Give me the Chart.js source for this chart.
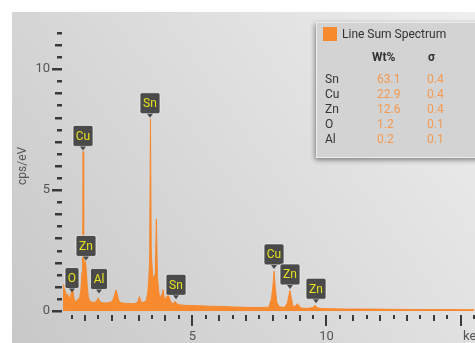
<!DOCTYPE html>
<html>
<head>
<meta charset="utf-8">
<script src="https://cdn.jsdelivr.net/npm/chart.js@4.4.0/dist/chart.umd.min.js"></script>
<style>
html, body { margin:0; padding:0; background:#fff; }
</style>
</head>
<body>
<canvas id="graficoEspectro" width="475" height="343"></canvas>
<script>
// Espectro: energía (keV) y cuentas (cps/eV)
const energia = [0.18,0.21,0.24,0.27,0.30,0.33,0.36,0.40,0.44,0.48,0.52,0.56,0.60,0.65,0.70,0.75,0.80,0.85,0.89,0.91,0.93,0.95,0.98,1.01,1.04,1.08,1.12,1.16,1.22,1.30,1.38,1.44,1.49,1.54,1.62,1.75,1.85,1.95,2.04,2.10,2.16,2.20,2.25,2.32,2.45,2.60,2.75,2.90,2.98,3.03,3.08,3.18,3.28,3.34,3.38,3.41,3.44,3.47,3.52,3.57,3.62,3.66,3.70,3.76,3.82,3.87,3.91,3.95,4.00,4.05,4.10,4.14,4.20,4.28,4.36,4.42,4.55,4.80,5.20,5.60,6.00,6.50,7.00,7.50,7.85,7.95,8.01,8.05,8.09,8.15,8.25,8.45,8.55,8.60,8.64,8.68,8.75,8.85,8.91,8.96,9.05,9.30,9.50,9.57,9.65,9.80,10.2,10.8,11.5,12.5,13.5,14.5,15.5];
const cuentas = [0.9,1.1,0.7,0.85,0.55,0.7,0.5,0.6,0.45,0.7,0.95,0.75,0.45,0.4,0.42,0.5,0.55,0.9,1.6,2.2,6.6,2.3,1.9,2.05,1.8,1.1,0.6,0.45,0.38,0.35,0.37,0.42,0.55,0.42,0.35,0.33,0.34,0.36,0.45,0.65,0.87,0.7,0.45,0.35,0.32,0.31,0.3,0.32,0.4,0.6,0.38,0.36,0.42,0.75,1.4,2.2,7.95,2.4,1.5,1.3,1.6,3.8,1.4,0.7,0.55,0.7,0.88,0.55,0.5,0.6,0.75,0.55,0.38,0.3,0.4,0.3,0.25,0.23,0.22,0.2,0.19,0.17,0.15,0.14,0.16,0.5,1.1,1.65,1.0,0.35,0.17,0.15,0.35,0.65,0.85,0.6,0.2,0.2,0.3,0.25,0.12,0.11,0.14,0.24,0.14,0.1,0.09,0.08,0.08,0.07,0.06,0.06,0.05];

// Etiquetas de picos
const picoNombre = ['O','Cu','Zn','Al','Sn','Sn','Cu','Zn','Zn'];
const picoEnergia = [0.50,0.93,1.02,1.52,3.44,4.38,8.05,8.64,9.60];
const picoAltura = [0.72,6.6,2.05,0.68,7.95,0.44,1.7,0.87,0.28];

// Tabla de la leyenda
const elementos = ['Sn','Cu','Zn','O','Al'];
const pesoPct = ['63.1','22.9','12.6','1.2','0.2'];
const sigma = ['0.4','0.4','0.4','0.1','0.1'];

// Marcas de los ejes
const xEtiquetas = [5, 10];
const yEtiquetas = [0, 5, 10];

const naranja = '#f7892f';
const fuente = 'Roboto, "Open Sans", sans-serif';

document.addEventListener('DOMContentLoaded', function(){
    // fondo gris degradado
    const fondo = {
        id: 'fondo',
        beforeDraw(chart) {
            const c = chart.ctx;
            c.save();
            c.fillStyle = '#ffffff';
            c.fillRect(0, 0, chart.width, chart.height);
            const g = c.createLinearGradient(12, chart.height, chart.width, 12);
            g.addColorStop(0, '#c8c8c8');
            g.addColorStop(1, '#eeeeee');
            c.fillStyle = g;
            c.fillRect(12, 12, chart.width - 12, chart.height - 12);
            c.restore();
        }
    };

    // marcas de los ejes (cortas, medianas y largas)
    const marcas = {
        id: 'marcas',
        afterDraw(chart) {
            const c = chart.ctx, xs = chart.scales.x, ys = chart.scales.y;
            c.save();
            c.fillStyle = '#3a3a3a';
            for (let v = 0; v <= 11.5; v += 0.5) {
                const y = Math.round(ys.getPixelForValue(v));
                const largo = v % 5 === 0 ? 10 : (v % 1 === 0 ? 7 : 5);
                c.fillRect(62 - largo, y - 1, largo, 2.5);
            }
            for (let v = 0.5; v <= 15.5; v += 0.5) {
                const x = Math.round(xs.getPixelForValue(v));
                const largo = v % 5 === 0 ? 11 : (v % 1 === 0 ? 6 : 4);
                c.fillRect(x - 1, 315, 2, largo);
            }
            c.fillStyle = '#555';
            c.font = '13px ' + fuente;
            c.textAlign = 'left';
            c.textBaseline = 'middle';
            c.fillText('keV', 463, 337);
            c.restore();
        }
    };

    // cajitas con el nombre del elemento sobre cada pico
    const etiquetas = {
        id: 'etiquetas',
        afterDatasetsDraw(chart) {
            const c = chart.ctx, xs = chart.scales.x, ys = chart.scales.y;
            c.save();
            c.font = '12px ' + fuente;
            c.textAlign = 'center';
            c.textBaseline = 'middle';
            picoNombre.forEach((n, i) => {
                const x = Math.round(xs.getPixelForValue(picoEnergia[i]));
                const punta = ys.getPixelForValue(picoAltura[i]) - 1;
                const w = Math.round(c.measureText(n).width) + 6;
                const h = 21;
                const top = punta - 4 - h;
                c.fillStyle = '#4a4a4a';
                c.strokeStyle = 'rgba(240,240,240,0.75)';
                c.lineWidth = 1;
                c.beginPath();
                c.roundRect(x - w / 2, top, w, h, 2);
                c.fill();
                c.stroke();
                c.beginPath();
                c.moveTo(x - 3, top + h);
                c.lineTo(x + 3, top + h);
                c.lineTo(x, punta);
                c.closePath();
                c.fill();
                c.fillStyle = '#e8e21c';
                c.fillText(n, x, top + h / 2 + 1);
            });
            c.restore();
        }
    };

    // recuadro de la leyenda con la tabla
    const leyenda = {
        id: 'leyenda',
        afterDraw(chart) {
            const c = chart.ctx;
            c.save();
            c.shadowColor = 'rgba(0,0,0,0.45)';
            c.shadowBlur = 5;
            c.shadowOffsetX = -1;
            c.shadowOffsetY = 2;
            c.fillStyle = '#d3d3d3';
            c.fillRect(316, 22, 170, 136);
            c.shadowColor = 'transparent';
            c.strokeStyle = '#ececec';
            c.strokeRect(316.5, 22.5, 170, 135);
            c.fillStyle = naranja;
            c.fillRect(323, 27, 14, 14);
            c.textBaseline = 'middle';
            c.textAlign = 'left';
            c.fillStyle = '#333';
            c.font = '12px ' + fuente;
            c.fillText('Line Sum Spectrum', 342, 35);
            c.font = 'bold 12px ' + fuente;
            c.fillText('Wt%', 372, 58);
            c.fillText('σ', 428, 58);
            c.font = '12px ' + fuente;
            elementos.forEach((el, i) => {
                const y = 80 + i * 15;
                c.fillStyle = '#333';
                c.fillText(el, 325, y);
                c.fillStyle = '#f29a52';
                c.fillText(pesoPct[i], 377, y);
                c.fillText(sigma[i], 427, y);
            });
            c.restore();
        }
    };

    const ctx = document.getElementById('graficoEspectro').getContext('2d');
    new Chart(ctx, {
        type: 'line',
        data: {
            datasets: [{
                label: 'Line Sum Spectrum',
                data: energia.map((e, i) => ({x: e, y: cuentas[i]})),
                borderColor: naranja,
                backgroundColor: naranja,
                fill: 'origin',
                borderWidth: 1,
                pointRadius: 0,
                tension: 0
            }]
        },
        options: {
            responsive: false,
            animation: false,
            layout: { padding: { top: 9, right: 1, left: 0, bottom: 0 } },
            plugins: { legend: { display: false }, tooltip: { enabled: false } },
            scales: {
                x: {
                    type: 'linear',
                    min: 0.18,
                    max: 15.5,
                    grid: { display: false, drawTicks: false },
                    border: { display: false },
                    afterBuildTicks: s => { s.ticks = xEtiquetas.map(v => ({value: v})); },
                    afterFit: s => { s.height = 32; },
                    ticks: { padding: 18, color: '#555', maxRotation: 0, autoSkip: false, font: { family: fuente, size: 13 } }
                },
                y: {
                    min: 0,
                    max: 12,
                    grid: { display: false, drawTicks: false },
                    border: { display: false },
                    afterBuildTicks: s => { s.ticks = yEtiquetas.map(v => ({value: v})); },
                    afterFit: s => { s.width = 63; },
                    ticks: { padding: 13, color: '#555', font: { family: fuente, size: 13 } },
                    title: { display: true, text: 'cps/eV', color: '#555', font: { family: fuente, size: 12 }, padding: { top: 16, bottom: 0 } }
                }
            }
        },
        plugins: [fondo, marcas, etiquetas, leyenda]
    });
});
</script>
</body>
</html>
